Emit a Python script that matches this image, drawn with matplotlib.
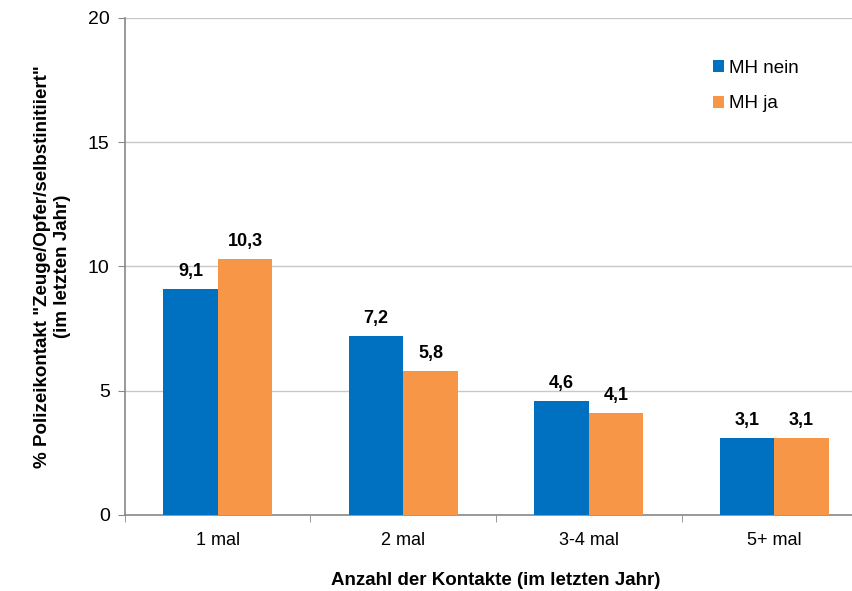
import matplotlib.pyplot as plt
import numpy as np

plt.rcParams['font.family'] = ['Liberation Sans', 'DejaVu Sans']

categories = ['1 mal', '2 mal', '3-4 mal', '5+ mal']
mh_nein = [9.1, 7.2, 4.6, 3.1]
mh_ja = [10.3, 5.8, 4.1, 3.1]
series_names = ['MH nein', 'MH ja']

blue = '#0070C0'
orange = '#F79646'

fig = plt.figure(figsize=(8.53, 5.91), dpi=100)
ax = fig.add_axes([0.1465, 0.1286, 0.870, 0.841])

x = np.arange(len(categories))
w = 0.294
b1 = ax.bar(x - w / 2, mh_nein, w, color=blue, label=series_names[0], zorder=3)
b2 = ax.bar(x + w / 2, mh_ja, w, color=orange, label=series_names[1], zorder=3)

# value labels with decimal comma
for bars, vals in ((b1, mh_nein), (b2, mh_ja)):
    for rect, v in zip(bars, vals):
        ax.text(rect.get_x() + rect.get_width() / 2, v + 0.35,
                ('%.1f' % v).replace('.', ','), ha='center', va='bottom',
                fontsize=13, fontweight='bold')

ax.set_xlim(-0.5, len(categories) - 0.5)
ax.set_ylim(0, 20)
ax.set_yticks([0, 5, 10, 15, 20])
ax.yaxis.grid(True, color='#c8c8c8', linewidth=1, zorder=0)

ax.set_xticks(x)
ax.set_xticklabels(categories, fontsize=13)
ax.set_xticks(np.arange(len(categories) + 1) - 0.5, minor=True)
ax.tick_params(axis='x', which='major', length=0, pad=12)
ax.tick_params(axis='x', which='minor', length=5, color='#888888')
ax.tick_params(axis='y', length=5, color='#888888', labelsize=14, pad=6)

for s in ('top', 'right'):
    ax.spines[s].set_visible(False)
for s in ('left', 'bottom'):
    ax.spines[s].set_color('#888888')
    ax.spines[s].set_linewidth(1.2)

ax.set_xlabel('Anzahl der Kontakte (im letzten Jahr)', fontsize=13.5,
              fontweight='bold', labelpad=17)
ax.set_ylabel('% Polizeikontakt "Zeuge/Opfer/selbstinitiiert"\n(im letzten Jahr)',
              fontsize=13.5, fontweight='bold', labelpad=12, linespacing=1.25)

ax.legend(loc='upper left', bbox_to_anchor=(0.769, 0.95), frameon=False,
          fontsize=13.5, handlelength=0.6, handleheight=0.6, handletextpad=0.3,
          labelspacing=1.0)

fig.savefig('out.png', dpi=100)
